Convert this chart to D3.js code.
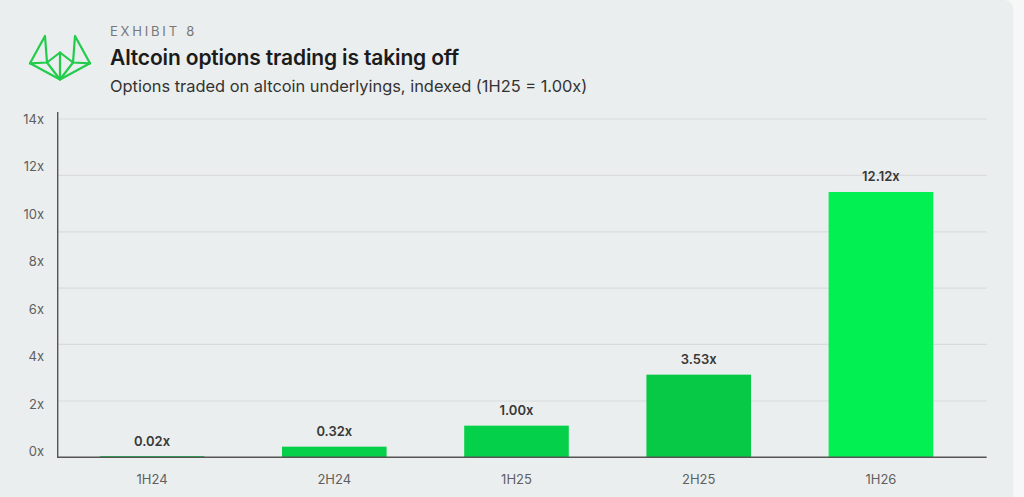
<!DOCTYPE html>
<html>
<head>
<meta charset="utf-8">
<script src="https://cdn.jsdelivr.net/npm/d3@7"></script>
<style>
  body { margin: 0; background: #f7f7f7; }
  svg { display: block; font-family: Inter, "Noto Sans", sans-serif; }
</style>
</head>
<body>
<script>
// data
const periods = ['1H24', '2H24', '1H25', '2H25', '1H26'];
const valueLabels = ['0.02x', '0.32x', '1.00x', '3.53x', '12.12x'];
// bar tops as drawn, read against the gridline scale (0 to 14)
const barValues = [0.05, 0.44, 1.31, 3.42, 10.98];
const barColors = ['#06cf49', '#06cf49', '#04d04a', '#08c946', '#02f052'];
const tickValues = [0, 2, 4, 6, 8, 10, 12, 14];
const gridValues = [0, 2.33, 4.67, 7, 9.33, 11.67, 14];

const W = 1024, H = 497;

const svg = d3.select('body').append('svg')
              .attr('width', W)
              .attr('height', H);

// card
svg.append('rect')
   .attr('x', -20).attr('y', 0).attr('rx', 9).attr('ry', 9)
   .attr('width', 1033.3).attr('height', 530)
   .style('fill', '#ebeeee');

// logo
const logo = svg.append('g').style('fill', 'none').style('stroke', '#22cc4a')
                .style('stroke-width', 2.2).style('stroke-linejoin', 'round').style('stroke-linecap', 'round');
const logoLines = [
  [[30, 63.3], [45, 36], [47, 62.5]],
  [[90, 63.3], [75, 36], [73, 62.5]],
  [[30, 63.3], [47, 62.5], [60, 52.5], [73, 62.5], [90, 63.3]],
  [[30, 63.3], [60, 79.5], [90, 63.3]],
  [[47, 62.5], [60, 79.5], [73, 62.5]],
  [[60, 52.5], [60, 79.5]]
];
logo.selectAll('path').data(logoLines).join('path')
    .attr('d', d => d3.line()(d));

// titles
svg.append('text').attr('x', 110).attr('y', 35.5).text('EXHIBIT 8')
   .style('font-size', '13px').style('letter-spacing', '2.8px').style('fill', '#777');
svg.append('text').attr('x', 110).attr('y', 65).text('Altcoin options trading is taking off')
   .style('font-size', '21px').style('font-weight', 600).style('letter-spacing', '-0.15px').style('fill', '#1b1b1b');
svg.append('text').attr('x', 110).attr('y', 91.5).text('Options traded on altcoin underlyings, indexed (1H25 = 1.00x)')
   .style('font-size', '16.4px').style('fill', '#333');

// scales
const x = d3.scaleBand().domain(periods).range([61, 972])
            .paddingInner(0.426).paddingOuter(0.213);
const y = d3.scaleLinear().domain([0, 14]).range([457.3, 119]);
const yLabel = d3.scaleLinear().domain([0, 14]).range([451.7, 119]);

// gridlines
svg.append('g').selectAll('line').data(gridValues.slice(1)).join('line')
   .attr('x1', 57.7).attr('x2', 986.7)
   .attr('y1', d => y(d)).attr('y2', d => y(d))
   .style('stroke', '#d9dcdb').style('stroke-width', 1.2);

// y tick labels
const yAxis = svg.append('g').attr('transform', 'translate(44,0)')
   .call(d3.axisLeft(yLabel).tickValues(tickValues).tickFormat(d => d + 'x').tickSize(0).tickPadding(0));
yAxis.select('.domain').remove();
yAxis.selectAll('text').style('font-size', '13px').style('fill', '#5f5f5f').style('font-family', 'Inter, sans-serif');

// bars
svg.append('g').selectAll('rect').data(barValues).join('rect')
   .attr('x', (d, i) => x(periods[i]))
   .attr('width', x.bandwidth())
   .attr('y', d => y(d))
   .attr('height', d => y(0) - y(d))
   .style('fill', (d, i) => barColors[i]);

// value labels
svg.append('g').selectAll('text').data(barValues).join('text')
   .attr('x', (d, i) => x(periods[i]) + x.bandwidth() / 2)
   .attr('y', d => y(d) - 10.5)
   .attr('text-anchor', 'middle')
   .text((d, i) => valueLabels[i])
   .style('font-size', '13px').style('font-weight', 600).style('fill', '#383838');

// axes lines
svg.append('line').attr('x1', 57.7).attr('x2', 57.7).attr('y1', 112).attr('y2', 457.3)
   .style('stroke', '#555').style('stroke-width', 1.4);
svg.append('line').attr('x1', 57).attr('x2', 986.7).attr('y1', 457.3).attr('y2', 457.3)
   .style('stroke', '#555').style('stroke-width', 1.4);

// x labels
const xAxis = svg.append('g').attr('transform', 'translate(0,457.3)')
   .call(d3.axisBottom(x).tickSize(0).tickPadding(17));
xAxis.select('.domain').remove();
xAxis.selectAll('text').style('font-size', '13px').style('fill', '#5f5f5f').style('font-family', 'Inter, sans-serif');
</script>
</body>
</html>
